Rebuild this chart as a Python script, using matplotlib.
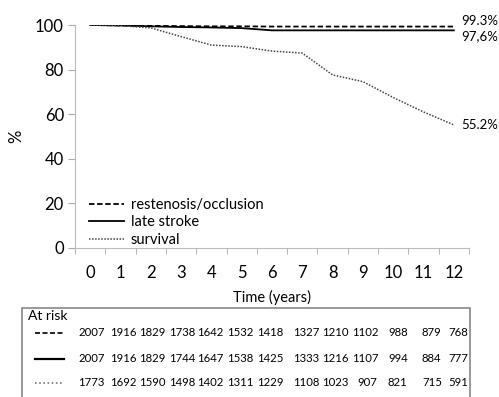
import matplotlib
matplotlib.use("Agg")
import matplotlib.pyplot as plt
from matplotlib.patches import Rectangle

plt.rcParams['font.family'] = ['Lato', 'DejaVu Sans']

# data
years       = [0, 1, 2, 3, 4, 5, 6, 7, 8, 9, 10, 11, 12]
restenosis  = [100, 99.8, 99.6, 99.5, 99.4, 99.4, 99.3, 99.3, 99.3, 99.3, 99.3, 99.3, 99.3]
late_stroke = [100, 99.8, 99.4, 99.1, 98.9, 98.6, 97.6, 97.6, 97.6, 97.6, 97.6, 97.6, 97.6]
survival    = [100, 99.7, 98.7, 94.8, 91.0, 90.3, 88.3, 87.4, 77.6, 74.6, 67.5, 61.0, 55.2]
end_labels  = ["99.3%", "97,6%", "55.2%"]

risk_restenosis = [2007, 1916, 1829, 1738, 1642, 1532, 1418, 1327, 1210, 1102, 988, 879, 768]
risk_stroke     = [2007, 1916, 1829, 1744, 1647, 1538, 1425, 1333, 1216, 1107, 994, 884, 777]
risk_survival   = [1773, 1692, 1590, 1498, 1402, 1311, 1229, 1108, 1023, 907, 821, 715, 591]

W, H = 499, 397
fig = plt.figure(figsize=(W / 100, H / 100), dpi=100)

def px(x, y):
    return x / W, 1 - y / H

ax = fig.add_axes([75 / W, 1 - 248 / H, (469 - 75) / W, (248 - 25) / H])

ax.plot(years, restenosis, color='black', linestyle=(0, (3, 1.5)), linewidth=1.3, label='restenosis/occlusion')
ax.plot(years, late_stroke, color='black', linestyle='-', linewidth=1.3, label='late stroke')
ax.plot(years, survival, color='#444444', linestyle=(0, (1, 1)), linewidth=1.1, label='survival')

ax.set_xlim(-0.5, 12.5)
ax.set_ylim(0, 100)
ax.set_xticks(years)
ax.set_xticks([y - 0.5 for y in years] + [12.5], minor=True)
ax.tick_params(axis='x', which='major', length=0, labelsize=12, pad=12)
ax.tick_params(axis='x', which='minor', length=4, color='#aaaaaa', direction='out')
ax.set_yticks([0, 20, 40, 60, 80, 100])
ax.tick_params(axis='y', length=5, color='#aaaaaa', labelsize=12, pad=3)
for s in ['top', 'right']:
    ax.spines[s].set_visible(False)
for s in ['left', 'bottom']:
    ax.spines[s].set_color('#bbbbbb')
ax.set_ylabel('%', fontsize=12, labelpad=8)
ax.set_xlabel('Time (years)', fontsize=10.5, labelpad=7)

ax.legend(loc='lower left', bbox_to_anchor=(0.02, -0.02), frameon=False, fontsize=10.5,
          handlelength=2.4, handletextpad=0.5, labelspacing=0.22, borderaxespad=0)

for val, lab, dy in zip([restenosis[-1], late_stroke[-1], survival[-1]], end_labels, [4, -4, 0]):
    ax.annotate(lab, (12, val), xytext=(5, dy), textcoords='offset points',
                va='center', ha='left', fontsize=9.5, annotation_clip=False)

# at risk table
fig.patches.append(Rectangle(px(22, 420), (470 - 22) / W, (420 - 308) / H,
                             transform=fig.transFigure, fill=False, edgecolor='#888888', linewidth=1.2))
fig.text(*px(28, 316), 'At risk', fontsize=10, va='center', ha='left')

col_x = [78, 110, 139, 169, 197, 227, 257, 293, 322, 352, 383, 417, 443]
rows = [(risk_restenosis, 333, (0, (3, 1.5)), 'black'),
        (risk_stroke, 359, '-', 'black'),
        (risk_survival, 383, (0, (1, 1.5)), '#777777')]
for vals, yy, ls, col in rows:
    x0, y0 = px(35, yy)
    x1, _ = px(64, yy)
    fig.add_artist(plt.Line2D([x0, x1], [y0, y0], transform=fig.transFigure,
                              color=col, linestyle=ls, linewidth=1.2 if ls != '-' else 1.6))
    for cx, v in zip(col_x, vals):
        off = 5 if v < 1000 else 0
        fig.text(*px(cx + off, yy), str(v), fontsize=8.2, va='center', ha='left')

fig.savefig('out.png', dpi=100)
